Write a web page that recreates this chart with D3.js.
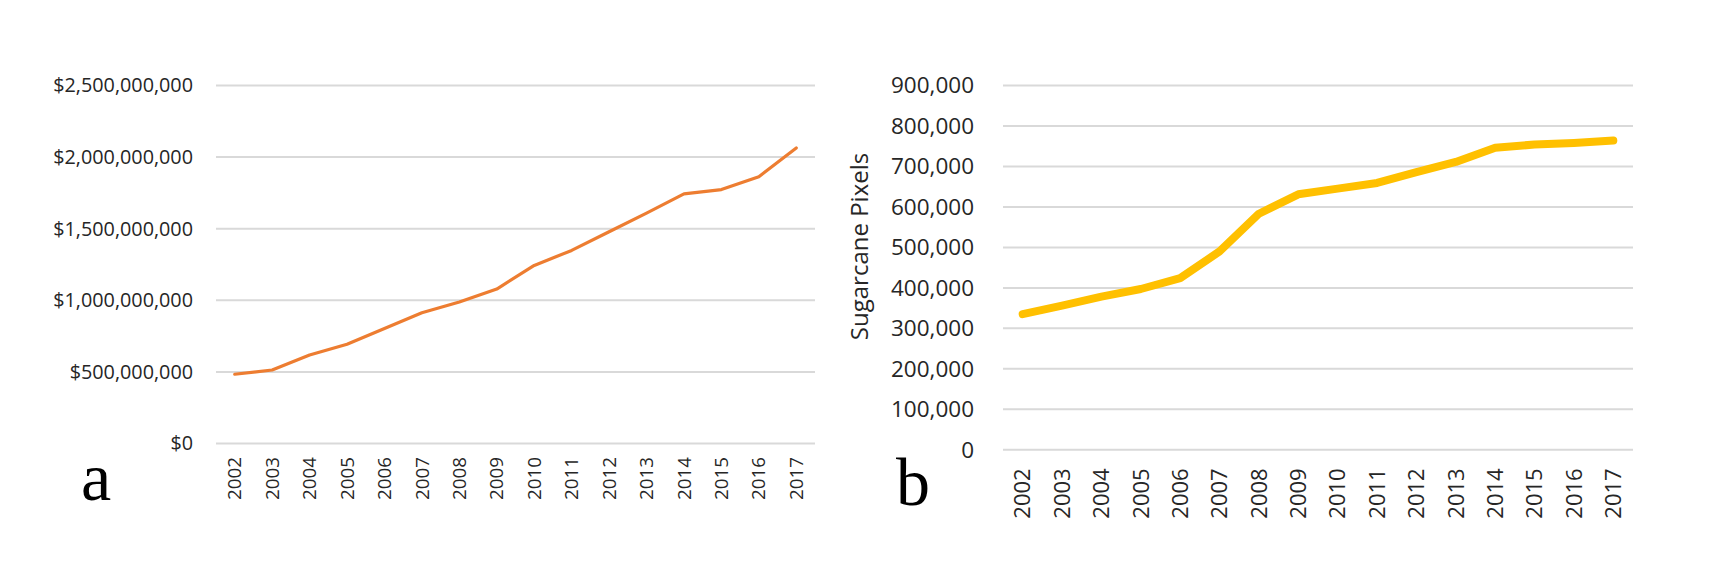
<!DOCTYPE html>
<html>
<head>
<meta charset="utf-8">
<script src="https://cdn.jsdelivr.net/npm/d3@7"></script>
<style>
  body { margin: 0; background: #fff; }
  svg text { font-family: "Open Sans", sans-serif; fill: #262626; }
</style>
</head>
<body>
<svg id="chart" width="1711" height="561"></svg>
<script>
const years = ["2002","2003","2004","2005","2006","2007","2008","2009",
               "2010","2011","2012","2013","2014","2015","2016","2017"];

// panel a: value in dollars
const revenue = [480e6, 510e6, 615e6, 690e6, 800e6, 910e6, 985e6, 1075e6,
                 1240e6, 1345e6, 1475e6, 1605e6, 1740e6, 1770e6, 1860e6, 2060e6];
const revenueTicks = [0, 500e6, 1000e6, 1500e6, 2000e6, 2500e6];

// panel b: sugarcane pixels
const pixels = [334000, 355000, 377000, 396000, 423000, 489000, 582000, 630000,
                644000, 658000, 685000, 710000, 745000, 753000, 757000, 763000];
const pixelTicks = [0, 100000, 200000, 300000, 400000, 500000, 600000, 700000, 800000, 900000];

const svg = d3.select("#chart");

function drawPanel(opts) {
  const g = svg.append("g");
  const x = d3.scaleBand().domain(years).range([opts.x0, opts.x1]);
  const y = d3.scaleLinear().domain([0, opts.yMax]).range([opts.y0, opts.y1]);

  // gridlines + tick labels
  const yAxis = g.append("g")
    .attr("transform", `translate(${opts.x0},0)`)
    .call(d3.axisLeft(y)
      .tickValues(opts.ticks)
      .tickSize(-(opts.x1 - opts.x0))
      .tickPadding(opts.tickPad)
      .tickFormat(opts.fmt));
  yAxis.select(".domain").remove();
  yAxis.selectAll(".tick line").attr("stroke", "#d9d9d9").attr("stroke-width", 2);
  yAxis.selectAll(".tick text")
    .style("font-size", opts.yFont + "px")
    .attr("dy", "0.35em");

  // year labels, rotated
  const xAxis = g.append("g")
    .attr("transform", `translate(0,${opts.y0})`)
    .call(d3.axisBottom(x).tickSize(0).tickPadding(0));
  xAxis.select(".domain").remove();
  xAxis.selectAll(".tick text")
    .style("font-size", opts.xFont + "px")
    .attr("text-anchor", "end")
    .attr("transform", `translate(0,${opts.xGap}) rotate(-90)`)
    .attr("x", 0)
    .attr("y", 0)
    .attr("dy", "0.35em");

  const line = d3.line()
    .x((d, i) => x(years[i]) + x.bandwidth() / 2)
    .y(d => y(d));

  g.append("path")
    .datum(opts.values)
    .attr("fill", "none")
    .attr("stroke", opts.color)
    .attr("stroke-width", opts.lineWidth)
    .attr("stroke-linejoin", "round")
    .attr("stroke-linecap", "round")
    .attr("d", line);

  // panel letter
  g.append("text")
    .attr("x", opts.letterX)
    .attr("y", opts.letterY)
    .style("font-family", "'Liberation Serif', serif")
    .style("font-size", "68px")
    .style("fill", "#000")
    .text(opts.letter);

  return g;
}

drawPanel({
  x0: 216, x1: 815, y0: 443, y1: 85,
  yMax: 2500e6, ticks: revenueTicks,
  fmt: d => "$" + d3.format(",")(d),
  tickPad: 23, yFont: 19.8, xFont: 18.8, xGap: 14,
  values: revenue, color: "#ed7d31", lineWidth: 3.2,
  letter: "a", letterX: 81, letterY: 500
});

const right = drawPanel({
  x0: 1003, x1: 1633, y0: 449.3, y1: 85,
  yMax: 900000, ticks: pixelTicks,
  fmt: d3.format(","),
  tickPad: 29, yFont: 22.5, xFont: 22, xGap: 19,
  values: pixels, color: "#ffc000", lineWidth: 8,
  letter: "b", letterX: 896, letterY: 505
});

// y axis title for panel b
right.append("text")
  .attr("transform", "translate(860,246.5) rotate(-90)")
  .attr("text-anchor", "middle")
  .attr("dy", "0.35em")
  .style("font-size", "24px")
  .text("Sugarcane Pixels");
</script>
</body>
</html>
